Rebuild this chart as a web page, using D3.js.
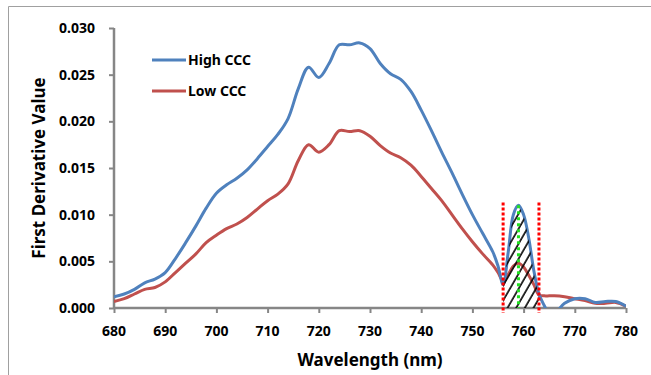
<!DOCTYPE html>
<html>
  <head>
    <meta charset="utf-8" />
    <title>First Derivative</title>
    <script src="https://d3js.org/d3.v7.min.js"></script>
    <style>
      html, body { margin: 0; padding: 0; background: #fff; overflow: hidden; }
      svg { display: block; font-family: "Noto Sans", sans-serif; font-weight: bold; }
    </style>
  </head>
  <body>
    <svg width="651" height="375"></svg>
    <script>
      const wavelengths = [680, 682, 684, 686, 688, 690, 692, 694, 696, 698, 700, 702, 704, 706, 708, 710,
        712, 714, 716, 718, 720, 722, 724, 726, 728, 730, 732, 734, 736, 738, 740, 742, 744, 746, 748,
        750, 752, 754, 755, 756, 757, 758, 759, 760, 761, 762, 763, 764, 765, 766, 768, 770, 772, 774,
        776, 778, 780];
      const highCCC = [0.0012, 0.0015, 0.0020, 0.0027, 0.0031, 0.0038, 0.0053, 0.0070, 0.0088, 0.0107,
        0.0123, 0.0132, 0.0139, 0.0148, 0.0160, 0.0173, 0.0186, 0.0203, 0.0235, 0.0258, 0.0247, 0.0262,
        0.0282, 0.0282, 0.0284, 0.0278, 0.0262, 0.0251, 0.0245, 0.0232, 0.0212, 0.0190, 0.0167, 0.0145,
        0.0122, 0.0100, 0.0080, 0.0060, 0.0045, 0.0025, 0.0060, 0.0100, 0.0110, 0.0100, 0.0075, 0.0040,
        0.0015, 0.0003, -0.0006, -0.0006, 0.0005, 0.0010, 0.0010, 0.0006, 0.0007, 0.0007, 0.0002];
      const lowCCC = [0.0007, 0.0010, 0.0015, 0.0020, 0.0022, 0.0028, 0.0038, 0.0048, 0.0058, 0.0070,
        0.0078, 0.0085, 0.0090, 0.0097, 0.0106, 0.0115, 0.0122, 0.0133, 0.0158, 0.0175, 0.0167, 0.0175,
        0.0190, 0.0189, 0.0190, 0.0184, 0.0174, 0.0166, 0.0161, 0.0153, 0.0141, 0.0128, 0.0115, 0.0100,
        0.0085, 0.0071, 0.0058, 0.0046, 0.0038, 0.0029, 0.0036, 0.0045, 0.0048, 0.0044, 0.0035, 0.0025,
        0.0014, 0.0013, 0.0013, 0.0013, 0.0012, 0.0010, 0.0008, 0.0005, 0.0005, 0.0006, 0.0002];
      const xTicks = [680, 690, 700, 710, 720, 730, 740, 750, 760, 770, 780];
      const yTicks = [0, 0.005, 0.010, 0.015, 0.020, 0.025, 0.030];
      const windowEdges = [756, 763];
      const peakWavelength = 759;

      const svg = d3.select("svg");
      const plot = { left: 114, right: 626, top: 28, bottom: 308 };

      // outer frame (only top and left edges are visible in the crop)
      svg.append("path")
        .attr("d", "M8.5,375V6.5H651")
        .attr("fill", "none").attr("stroke", "#a0a0a0");

      const defs = svg.append("defs");
      defs.append("clipPath").attr("id", "plot-clip")
        .append("rect")
        .attr("x", plot.left).attr("y", plot.top)
        .attr("width", plot.right - plot.left).attr("height", plot.bottom - plot.top);

      const hatch = defs.append("pattern")
        .attr("id", "hatch")
        .attr("patternUnits", "userSpaceOnUse")
        .attr("width", 7.5).attr("height", 8)
        .attr("patternTransform", "rotate(30)");
      hatch.append("line")
        .attr("x1", 1).attr("y1", 0).attr("x2", 1).attr("y2", 8)
        .attr("stroke", "#000").attr("stroke-width", 1.6);

      const x = d3.scaleLinear().domain([680, 780]).range([plot.left, plot.right]);
      const y = d3.scaleLinear().domain([0, 0.030]).range([plot.bottom, plot.top]);

      const high = wavelengths.map((w, i) => ({ w, v: highCCC[i] }));
      const low = wavelengths.map((w, i) => ({ w, v: lowCCC[i] }));

      // axes (tick labels drawn separately at absolute positions)
      const axisColor = "#868686";
      const xAxis = svg.append("g")
        .attr("transform", `translate(0, ${plot.bottom})`)
        .call(d3.axisBottom(x).tickValues(xTicks).tickSize(5).tickFormat(""));
      const yAxis = svg.append("g")
        .attr("transform", `translate(${plot.left}, 0)`)
        .call(d3.axisLeft(y).tickValues(yTicks).tickSize(5).tickFormat(""));
      [xAxis, yAxis].forEach(a => {
        a.select(".domain").attr("stroke", axisColor).attr("stroke-width", 2.5);
        a.selectAll(".tick line").attr("stroke", axisColor).attr("stroke-width", 2);
        a.selectAll(".tick text").remove();
      });
      xAxis.select(".domain").attr("d", `M${plot.left},0H${plot.right}`);
      yAxis.select(".domain").attr("d", `M0,${plot.top}V${plot.bottom}`);

      svg.append("g").selectAll("text").data(xTicks).join("text")
        .attr("x", d => x(d)).attr("y", plot.bottom + 28)
        .attr("text-anchor", "middle")
        .style("font-size", "14px")
        .text(d3.format("d"));
      svg.append("g").selectAll("text").data(yTicks).join("text")
        .attr("x", plot.left - 19).attr("y", d => y(d) + 5)
        .attr("text-anchor", "end")
        .style("font-size", "14px")
        .text(d3.format(".3f"));

      const line = d3.line()
        .x(d => x(d.w))
        .y(d => y(d.v))
        .curve(d3.curveCatmullRom);

      const lines = svg.append("g").attr("clip-path", "url(#plot-clip)");
      lines.append("path").datum(low)
        .attr("fill", "none").attr("stroke", "#c0504d").attr("stroke-width", 3)
        .attr("d", line);
      lines.append("path").datum(high)
        .attr("fill", "none").attr("stroke", "#4f81bd").attr("stroke-width", 3)
        .attr("d", line);

      // hatched window under the High CCC peak
      const inWindow = high.filter(d => d.w >= windowEdges[0] && d.w <= windowEdges[1]);
      svg.append("path")
        .datum(inWindow)
        .attr("clip-path", "url(#plot-clip)")
        .attr("fill", "url(#hatch)")
        .attr("d", d3.area()
          .x(d => x(d.w))
          .y0(y(0))
          .y1(d => y(d.v) + 2)
          .curve(d3.curveCatmullRom));

      // dotted markers
      const peakValue = highCCC[wavelengths.indexOf(peakWavelength)];
      svg.append("line")
        .attr("x1", x(peakWavelength)).attr("x2", x(peakWavelength))
        .attr("y1", y(peakValue)).attr("y2", y(0))
        .attr("stroke", "#22e022").attr("stroke-width", 3)
        .attr("stroke-dasharray", "3,3");
      windowEdges.forEach(w => {
        svg.append("line")
          .attr("x1", x(w)).attr("x2", x(w))
          .attr("y1", y(0.0113)).attr("y2", y(0) + 5)
          .attr("stroke", "#ff0000").attr("stroke-width", 3)
          .attr("stroke-dasharray", "3,2");
      });

      // legend
      [["High CCC", "#4f81bd"], ["Low CCC", "#c0504d"]].forEach(([name, color], i) => {
        const ly = 60 + i * 31;
        svg.append("line").attr("x1", 152).attr("x2", 186)
          .attr("y1", ly).attr("y2", ly)
          .attr("stroke", color).attr("stroke-width", 3);
        svg.append("text").attr("x", 188).attr("y", ly + 5)
          .style("font-size", "14px").text(name);
      });

      // axis titles
      svg.append("text")
        .attr("x", (plot.left + plot.right) / 2).attr("y", 366)
        .attr("text-anchor", "middle")
        .style("font-size", "17px")
        .text("Wavelength (nm)");
      const ty = (plot.top + plot.bottom) / 2;
      svg.append("text")
        .attr("x", 45).attr("y", ty)
        .attr("transform", `rotate(-90, 45, ${ty})`)
        .attr("text-anchor", "middle")
        .style("font-size", "17px")
        .text("First Derivative Value");
    </script>
  </body>
</html>
